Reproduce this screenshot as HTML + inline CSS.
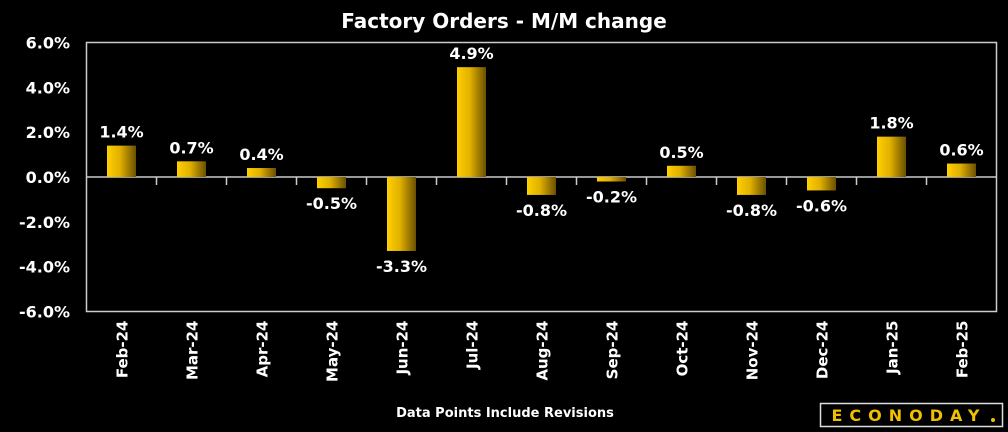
<!DOCTYPE html>
<html><head><meta charset="utf-8"><style>
html,body{margin:0;padding:0;background:#000;width:1008px;height:432px;overflow:hidden}
svg text{font-family:"DejaVu Sans","Liberation Sans",sans-serif;fill:#fff}
</style></head><body>
<svg id="chart" width="1008" height="432" viewBox="0 0 1008 432">
<defs><linearGradient id="bg" x1="0" x2="1" y1="0" y2="0"><stop offset="0" stop-color="#ffd000"/><stop offset="0.45" stop-color="#e0b000"/><stop offset="1" stop-color="#6a5000"/></linearGradient></defs>
<text x="504" y="28" text-anchor="middle" font-size="20" font-weight="bold">Factory Orders - M/M change</text>
<rect x="86.5" y="42.5" width="910" height="269" fill="none" stroke="#ccc" stroke-width="1.5"/>
<g id="ticks"></g><g id="bars"></g>
<text x="505" y="417" text-anchor="middle" font-size="13" font-weight="bold">Data Points Include Revisions</text>
<g>
<rect x="820.5" y="403.5" width="182" height="23" fill="#000" stroke="#ddd" stroke-width="1.5"/>
<text x="909" y="421" text-anchor="middle" font-size="16" font-weight="bold" letter-spacing="7" style="fill:#f0c000">ECONODAY</text>
<circle cx="993" cy="420" r="2" fill="#f0c000"/>
</g>
</svg>
<script>
const categories=["Feb-24","Mar-24","Apr-24","May-24","Jun-24","Jul-24","Aug-24","Sep-24","Oct-24","Nov-24","Dec-24","Jan-25","Feb-25"];
const values=[1.4,0.7,0.4,-0.5,-3.3,4.9,-0.8,-0.2,0.5,-0.8,-0.6,1.8,0.6];
const yTicks=[6,4,2,0,-2,-4,-6];
const NS="http://www.w3.org/2000/svg";
const L=86.5,R=996.5,T=42.5,B=311.5,yMin=-6,yMax=6;
const y=v=>T+(yMax-v)/(yMax-yMin)*(B-T);
const bw=(R-L)/categories.length;
const x=i=>L+bw*i+bw/2;
function mk(tag,attrs,parent){const e=document.createElementNS(NS,tag);for(const k in attrs)e.setAttribute(k,attrs[k]);parent.appendChild(e);return e;}
const tg=document.getElementById('ticks'),bg=document.getElementById('bars');
yTicks.forEach(t=>{
 const tx=mk('text',{x:70,y:y(t)+6,'text-anchor':'end','font-size':16,'font-weight':'bold'},tg);
 
 
 tx.textContent=t.toFixed(1)+'%';
});
const z=mk('line',{x1:L,x2:R,y1:y(0),y2:y(0),stroke:'#ccc','stroke-width':1.5},tg);


for(let i=1;i<categories.length;i++){
 const l=mk('line',{x1:L+bw*i,x2:L+bw*i,y1:y(0),y2:y(0)+8,stroke:'#ccc','stroke-width':1.5},tg);
 
 
}
categories.forEach((c,i)=>{
 const v=values[i],cx=x(i);
 const r=mk('rect',{x:cx-14.5,width:29,y:Math.min(y(v),y(0)),height:Math.abs(y(v)-y(0)),fill:'url(#bg)'},bg);
 
 
 const ly=v>=0?y(v)-8:y(v)+21;
 const t=mk('text',{x:cx,y:ly,'text-anchor':'middle','font-size':16,'font-weight':'bold'},bg);
 
 
 t.textContent=v.toFixed(1)+'%';
 const xl=mk('text',{x:0,y:0,'text-anchor':'end','font-size':15,'font-weight':'bold',transform:`translate(${cx+6},${B+9}) rotate(-90)`},bg);
 
 
 xl.textContent=c;
});
</script>
</body></html>
